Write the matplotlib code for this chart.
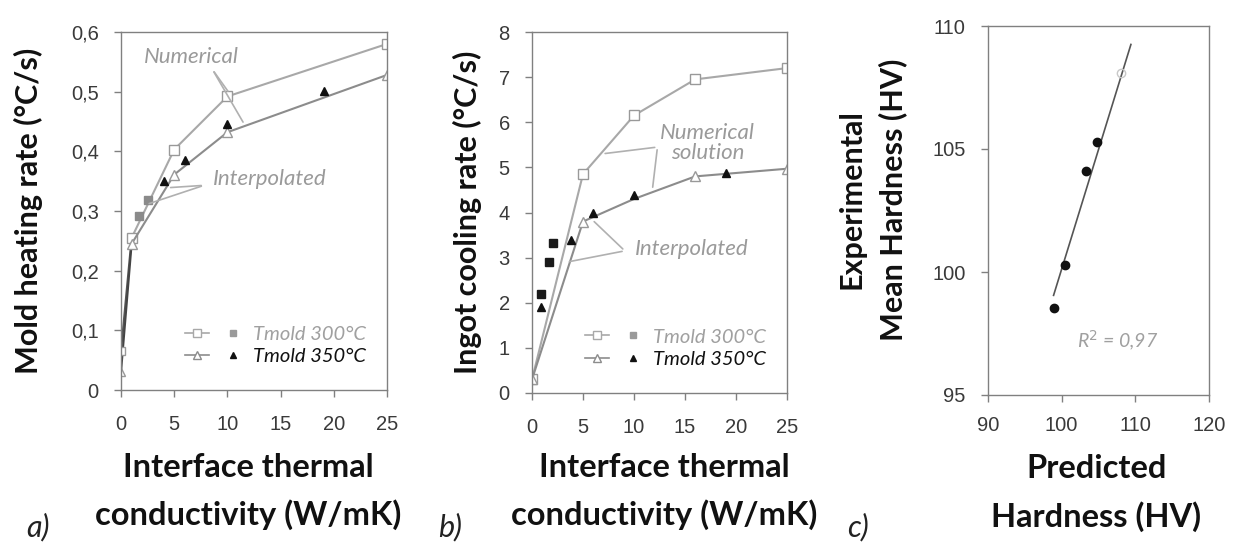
import matplotlib
matplotlib.use("Agg")
import matplotlib.pyplot as plt
from matplotlib.lines import Line2D
from matplotlib.legend_handler import HandlerTuple

# ---------------- data ----------------
# Panel a: mold heating rate (°C/s) vs interface thermal conductivity (W/mK)
a_num300_x = [0, 1, 5, 10, 25]
a_num300_y = [0.065, 0.255, 0.403, 0.492, 0.580]
a_num350_x = [0, 1, 5, 10, 25]
a_num350_y = [0.030, 0.245, 0.361, 0.432, 0.528]
a_int300_x = [1.7, 2.5]
a_int300_y = [0.292, 0.319]
a_int350_x = [4.0, 6.0, 10.0, 19.1]
a_int350_y = [0.350, 0.386, 0.445, 0.501]

# Panel b: ingot cooling rate (°C/s)
b_num300_x = [0, 5, 10, 16, 25]
b_num300_y = [0.30, 4.85, 6.15, 6.95, 7.20]
b_num350_x = [0, 5, 10, 16, 25]
b_num350_y = [0.30, 3.80, 4.30, 4.80, 4.97]
b_int300_x = [0.9, 1.7, 2.1]
b_int300_y = [2.20, 2.90, 3.32]
b_int350_x = [0.9, 3.8, 6.0, 10.0, 19.0]
b_int350_y = [1.90, 3.39, 3.99, 4.38, 4.87]

# Panel c: experimental vs predicted hardness (HV)
c_pred = [98.96, 100.45, 103.3, 104.84]
c_exp = [98.52, 100.28, 104.12, 105.30]
c_faint_pred = [108.1]
c_faint_exp = [108.1]
c_line_x = [98.9, 109.4]
c_line_y = [99.05, 109.25]

a_xticks = [0, 5, 10, 15, 20, 25]
a_yticks = [0, 0.1, 0.2, 0.3, 0.4, 0.5, 0.6]
a_yticklabels = ["0", "0,1", "0,2", "0,3", "0,4", "0,5", "0,6"]
b_yticks = [0, 1, 2, 3, 4, 5, 6, 7, 8]
c_xticks = [90, 100, 110, 120]
c_yticks = [95, 100, 105, 110]

legend_labels = ["Tmold 300°C", "Tmold 350°C"]

# ---------------- style ----------------
LABEL_FONT = ["Lato", "DejaVu Sans"]
TICK_FONT = ["Liberation Sans", "DejaVu Sans"]
SPINE = "#808080"
TICKC = "#3a3a3a"
L300 = "#a8a8a8"
L350 = "#8c8c8c"

W, H = 1237, 548
fig = plt.figure(figsize=(W / 100, H / 100), dpi=100)


def px_axes(left, top, right, bottom):
    return fig.add_axes([left / W, 1 - bottom / H, (right - left) / W, (bottom - top) / H])


def style_axes(ax, xpad=13, ypad=11):
    for s in ax.spines.values():
        s.set_color(SPINE)
        s.set_linewidth(1.0)
    ax.tick_params(direction="out", length=5, width=1, color=SPINE,
                   labelsize=14.5, labelcolor=TICKC)
    ax.tick_params(axis="x", pad=xpad)
    ax.tick_params(axis="y", pad=ypad)
    for lab in ax.get_xticklabels() + ax.get_yticklabels():
        lab.set_family(TICK_FONT)


def make_legend(ax, anchor):
    h300 = (Line2D([], [], color=L300, marker="s", mfc="white", mec=L300, ms=6, lw=1.2),
            Line2D([], [], ls="none", marker="s", color="#9a9a9a", ms=5))
    h350 = (Line2D([], [], color=L350, marker="^", mfc="white", mec=L350, ms=6, lw=1.2),
            Line2D([], [], ls="none", marker="^", color="#111111", ms=5))
    leg = ax.legend([h300, h350], legend_labels,
                    handler_map={tuple: HandlerTuple(ndivide=None, pad=0.6)},
                    loc="lower right", bbox_to_anchor=anchor, frameon=False,
                    handlelength=3.0, handletextpad=0.4, labelspacing=0.25,
                    prop={"family": LABEL_FONT, "style": "italic", "size": 14.5})
    leg.get_texts()[0].set_color("#a0a0a0")
    leg.get_texts()[1].set_color("#111111")
    return leg


def note(ax, text, xytext, targets, ha="center", start=None):
    ax.text(*xytext, text, ha=ha, va="center", color="#9a9a9a",
            family=LABEL_FONT, style="italic", fontsize=16, linespacing=1.0)
    s = start if start is not None else xytext
    for t in targets:
        ax.annotate("", xy=t, xytext=s,
                    arrowprops=dict(arrowstyle="-", color="#b0b0b0", lw=1.2))


XL_KW = dict(family=LABEL_FONT, fontweight="bold", fontsize=23.5, color="#111111",
             linespacing=1.7)
YL_KW = dict(family=LABEL_FONT, fontweight="bold", fontsize=22, color="#111111")

# ---------------- panel a ----------------
axa = px_axes(121, 32, 387, 390)
axa.plot(a_num300_x[:2], a_num300_y[:2], color="#555555", lw=1.5, zorder=2)
axa.plot(a_num300_x[1:], a_num300_y[1:], color=L300, lw=1.5, marker="s",
         mfc="white", mec="#999999", ms=7, zorder=2)
axa.plot(a_num350_x[:2], a_num350_y[:2], color="#444444", lw=1.5, zorder=2)
axa.plot(a_num350_x[1:], a_num350_y[1:], color=L350, lw=1.5, marker="^",
         mfc="white", mec="#999999", ms=7, zorder=2)
axa.plot(a_num300_x[:1], a_num300_y[:1], ls="none", marker="s", mfc="white", mec="#999999", ms=6)
axa.plot(a_num350_x[:1], a_num350_y[:1], ls="none", marker="^", mfc="white", mec="#999999", ms=6)
axa.plot(a_int300_x, a_int300_y, ls="none", marker="s", color="#8a8a8a", ms=6, zorder=3)
axa.plot(a_int350_x, a_int350_y, ls="none", marker="^", color="#111111", ms=6, zorder=3)
axa.set_xlim(0, 25)
axa.set_ylim(0, 0.6)
axa.set_xticks(a_xticks)
axa.set_yticks(a_yticks)
axa.set_yticklabels(a_yticklabels)
style_axes(axa)
note(axa, "Numerical", (6.6, 0.558), [(10.2, 0.497), (11.6, 0.445)], start=(8.6, 0.537))
note(axa, "Interpolated", (14.0, 0.353), [(4.4, 0.339), (2.4, 0.311)], start=(7.8, 0.343))
make_legend(axa, (0.99, 0.02))
axa.set_ylabel("Mold heating rate (°C/s)", **YL_KW)
axa.yaxis.set_label_coords(-0.293, 0.5)
axa.set_xlabel("Interface thermal\nconductivity (W/mK)", **XL_KW)
axa.xaxis.set_label_coords(0.48, -0.175)

# ---------------- panel b ----------------
axb = px_axes(532, 32, 787, 393)
axb.plot(b_num300_x, b_num300_y, color=L300, lw=1.5, marker="s",
         mfc="white", mec="#999999", ms=7, zorder=2)
axb.plot(b_num350_x, b_num350_y, color=L350, lw=1.5, marker="^",
         mfc="white", mec="#999999", ms=7, markevery=[0, 1, 3, 4], zorder=2)
axb.plot(b_int300_x, b_int300_y, ls="none", marker="s", color="#1a1a1a", ms=6, zorder=3)
axb.plot(b_int350_x, b_int350_y, ls="none", marker="^", color="#111111", ms=6, zorder=3)
axb.set_xlim(0, 25)
axb.set_ylim(0, 8)
axb.set_xticks(a_xticks)
axb.set_yticks(b_yticks)
style_axes(axb)
note(axb, "Numerical\nsolution", (17.2, 5.55), [(6.9, 5.3), (11.8, 4.5)], start=(12.3, 5.45))
note(axb, "Interpolated", (15.7, 3.2), [(5.9, 3.84), (3.4, 2.9)], start=(9.1, 3.15))
make_legend(axb, (0.99, 0.02))
axb.set_ylabel("Ingot cooling rate (°C/s)", **YL_KW)
axb.yaxis.set_label_coords(-0.196, 0.5)
axb.set_xlabel("Interface thermal\nconductivity (W/mK)", **XL_KW)
axb.xaxis.set_label_coords(0.52, -0.165)

# ---------------- panel c ----------------
axc = px_axes(988, 26, 1209, 395)
axc.plot(c_line_x, c_line_y, color="#555555", lw=1.2, zorder=2)
axc.plot(c_pred, c_exp, ls="none", marker="o", color="#111111", ms=6, zorder=3)
axc.plot(c_faint_pred, c_faint_exp, ls="none", marker="o", mfc="none", mec="#c8c8c8", ms=6, zorder=3)
axc.text(107.6, 97.2, "R$^2$ = 0,97", ha="center", va="center", color="#a0a0a0",
         family=LABEL_FONT, style="italic", fontsize=14)
axc.set_xlim(90, 120)
axc.set_ylim(95, 110)
axc.set_xticks(c_xticks)
axc.set_yticks(c_yticks)
style_axes(axc, xpad=10, ypad=11)
axc.set_ylabel("Experimental\nMean Hardness (HV)", linespacing=1.5, **YL_KW)
axc.yaxis.set_label_coords(-0.367, 0.53)
axc.set_xlabel("Predicted\nHardness (HV)", **XL_KW)
axc.xaxis.set_label_coords(0.49, -0.16)

# panel letters
for xp, letter in [(38, "a)"), (450, "b)"), (858, "c)")]:
    fig.text(xp / W, 1 - 527 / H, letter, ha="center", va="center", family=LABEL_FONT,
             style="italic", fontsize=22, color="#222222")

fig.savefig("out.png", dpi=100, facecolor="white")
